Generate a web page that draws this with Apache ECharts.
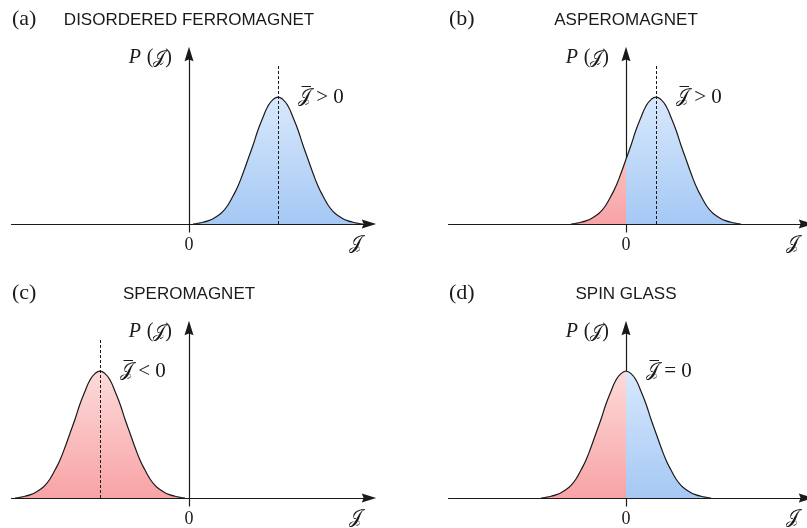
<!DOCTYPE html>
<html>
<head>
<meta charset="utf-8">
<script src="https://cdn.jsdelivr.net/npm/echarts@6/dist/echarts.min.js"></script>
<style>
  html, body { margin: 0; padding: 0; background: #ffffff; }
  #chart { width: 807px; height: 528px; }
</style>
</head>
<body>
<div id="chart"></div>
<script>
// Panel captions
const panelLetters = ['(a)', '(b)', '(c)', '(d)'];
const panelTitles = ['DISORDERED FERROMAGNET', 'ASPEROMAGNET', 'SPEROMAGNET', 'SPIN GLASS'];

// Mean exchange coupling of each distribution (J units)
const panelMeans = [3.56, 1.2, -3.56, 0];
const meanRelations = ['> 0', '> 0', '< 0', '= 0'];
const showMeanLine = [true, true, true, false];

// Bell-shaped distribution: offset from the mean vs. relative probability P(J)
const profileOffsets = [-3.4, -3.2, -3.0, -2.8, -2.6, -2.4, -2.2, -2.0, -1.8, -1.6, -1.4, -1.2,
  -1.0, -0.8, -0.6, -0.4, -0.2, 0, 0.2, 0.4, 0.6, 0.8, 1.0, 1.2, 1.4, 1.6, 1.8, 2.0, 2.2,
  2.4, 2.6, 2.8, 3.0, 3.2, 3.4];
const profileValues = [0.0, 0.006, 0.014, 0.025, 0.041, 0.066, 0.10, 0.15, 0.22, 0.30, 0.40, 0.51,
  0.62, 0.74, 0.84, 0.93, 0.98, 1.0, 0.98, 0.93, 0.84, 0.74, 0.62, 0.51, 0.40, 0.30, 0.22, 0.15,
  0.10, 0.066, 0.041, 0.025, 0.014, 0.006, 0.0];

// Tick shown on the J axis
const xTickValues = [0];
const xTickLabels = ['0'];

// Axis extents
const xRange = [-7.1, 7.2];
const yRange = [-0.063, 1.339];
const meanLineTop = 1.25;

// Panel geometry (pixels)
const gridW = 357.5, gridH = 178;
const gridPos = [[11.5, 54], [448.5, 54], [11.5, 328], [448.5, 328]];

const ink = '#1a1a1a';
const serif = "'Liberation Serif', 'DejaVu Serif', serif";
const mathFont = "'DejaVu Serif', 'DejaVu Sans', 'Liberation Serif', serif";
const arrow = 'path://M5,0L10,16L5,14L0,16Z';
const scriptJ = '\u{1D4A5}';

function yPix(v, top) {
  return top + (yRange[1] - v) / (yRange[1] - yRange[0]) * gridH;
}

function fillGradient(top, light, dark) {
  return new echarts.graphic.LinearGradient(0, yPix(1, top), 0, yPix(0, top), [
    { offset: 0, color: light },
    { offset: 1, color: dark }
  ], true);
}

const grids = [], xAxes = [], yAxes = [], series = [], graphics = [];

panelMeans.forEach((mean, i) => {
  const [left, top] = gridPos[i];
  grids.push({ left: left, top: top, width: gridW, height: gridH });

  xAxes.push({
    gridIndex: i, type: 'value', min: xRange[0], max: xRange[1],
    axisLine: { onZero: true, lineStyle: { color: ink, width: 1.2 },
      symbol: ['none', arrow], symbolSize: [9, 16] },
    axisTick: { show: false },
    splitLine: { show: false },
    axisLabel: {
      customValues: xTickValues,
      formatter: v => xTickLabels[xTickValues.indexOf(v)] ?? '',
      margin: 4, color: ink, fontFamily: serif, fontSize: 18
    },
    name: scriptJ, nameLocation: 'end', nameGap: -14,
    nameTextStyle: { color: ink, fontFamily: mathFont, fontSize: 19,
      align: 'center', verticalAlign: 'top', padding: [11, 0, 0, 0] }
  });

  yAxes.push({
    gridIndex: i, type: 'value', min: yRange[0], max: yRange[1],
    axisLine: { onZero: true, lineStyle: { color: ink, width: 1.2 },
      symbol: ['none', arrow], symbolSize: [9, 16] },
    axisTick: { show: false },
    axisLabel: { show: false },
    splitLine: { show: false },
    name: '{p|P} {t|(}' + scriptJ + '{t|)}', nameLocation: 'end', nameGap: -4,
    nameTextStyle: { color: ink, fontFamily: mathFont, fontSize: 18,
      align: 'right', verticalAlign: 'middle', padding: [0, 17, 0, 0],
      rich: {
        p: { fontFamily: serif, fontStyle: 'italic', fontSize: 20, color: ink },
        t: { fontFamily: serif, fontSize: 20, color: ink }
      } }
  });

  const points = profileOffsets.map((d, k) => [mean + d, profileValues[k]]);
  const negPart = points.filter(p => p[0] <= 1e-9);
  const posPart = points.filter(p => p[0] >= -1e-9);

  const meanMark = {
    silent: true,
    symbol: 'circle', symbolSize: 0,
    label: { show: true, position: 'right', distance: 20,
      formatter: '{j|' + scriptJ + '\u0305}{r| ' + meanRelations[i] + '}',
      rich: {
        j: { fontFamily: mathFont, fontSize: 19, color: ink },
        r: { fontFamily: serif, fontSize: 21, color: ink }
      } },
    data: [{ coord: [mean, 1.0] }]
  };
  const meanLine = {
    silent: true, symbol: ['none', 'none'],
    lineStyle: { color: ink, width: 1, type: [3, 2] },
    label: { show: false },
    data: [[{ coord: [mean, 0] }, { coord: [mean, meanLineTop] }]]
  };

  const base = {
    type: 'line', xAxisIndex: i, yAxisIndex: i, smooth: true, symbol: 'none',
    lineStyle: { color: ink, width: 1.2 }, z: 3
  };
  const markOn = mean >= 0 ? 'pos' : 'neg';

  if (negPart.length > 1) {
    series.push(Object.assign({}, base, {
      data: negPart,
      areaStyle: { color: fillGradient(top, '#fddada', '#f8a3a5'), opacity: 1 },
      markPoint: markOn === 'neg' ? meanMark : undefined,
      markLine: markOn === 'neg' && showMeanLine[i] ? meanLine : undefined
    }));
  }
  if (posPart.length > 1) {
    series.push(Object.assign({}, base, {
      data: posPart,
      areaStyle: { color: fillGradient(top, '#d8e8fc', '#a5c8f4'), opacity: 1 },
      markPoint: markOn === 'pos' ? meanMark : undefined,
      markLine: markOn === 'pos' && showMeanLine[i] ? meanLine : undefined
    }));
  }

  const axisX = left + (0 - xRange[0]) / (xRange[1] - xRange[0]) * gridW;
  graphics.push({
    type: 'text', x: left + 0.5, y: top - 35,
    style: { text: panelLetters[i], font: "22px 'Liberation Serif', serif", fill: ink,
      align: 'left', verticalAlign: 'middle' }
  });
  graphics.push({
    type: 'text', x: axisX, y: top - 34,
    style: { text: panelTitles[i], font: "17px 'Liberation Sans', Arial, sans-serif",
      fill: ink, align: 'center', verticalAlign: 'middle' }
  });
});

const chart = echarts.init(document.getElementById('chart'), null, { renderer: 'canvas' });
chart.setOption({
  animation: false,
  backgroundColor: '#ffffff',
  grid: grids,
  xAxis: xAxes,
  yAxis: yAxes,
  series: series,
  graphic: graphics
});
</script>
</body>
</html>
